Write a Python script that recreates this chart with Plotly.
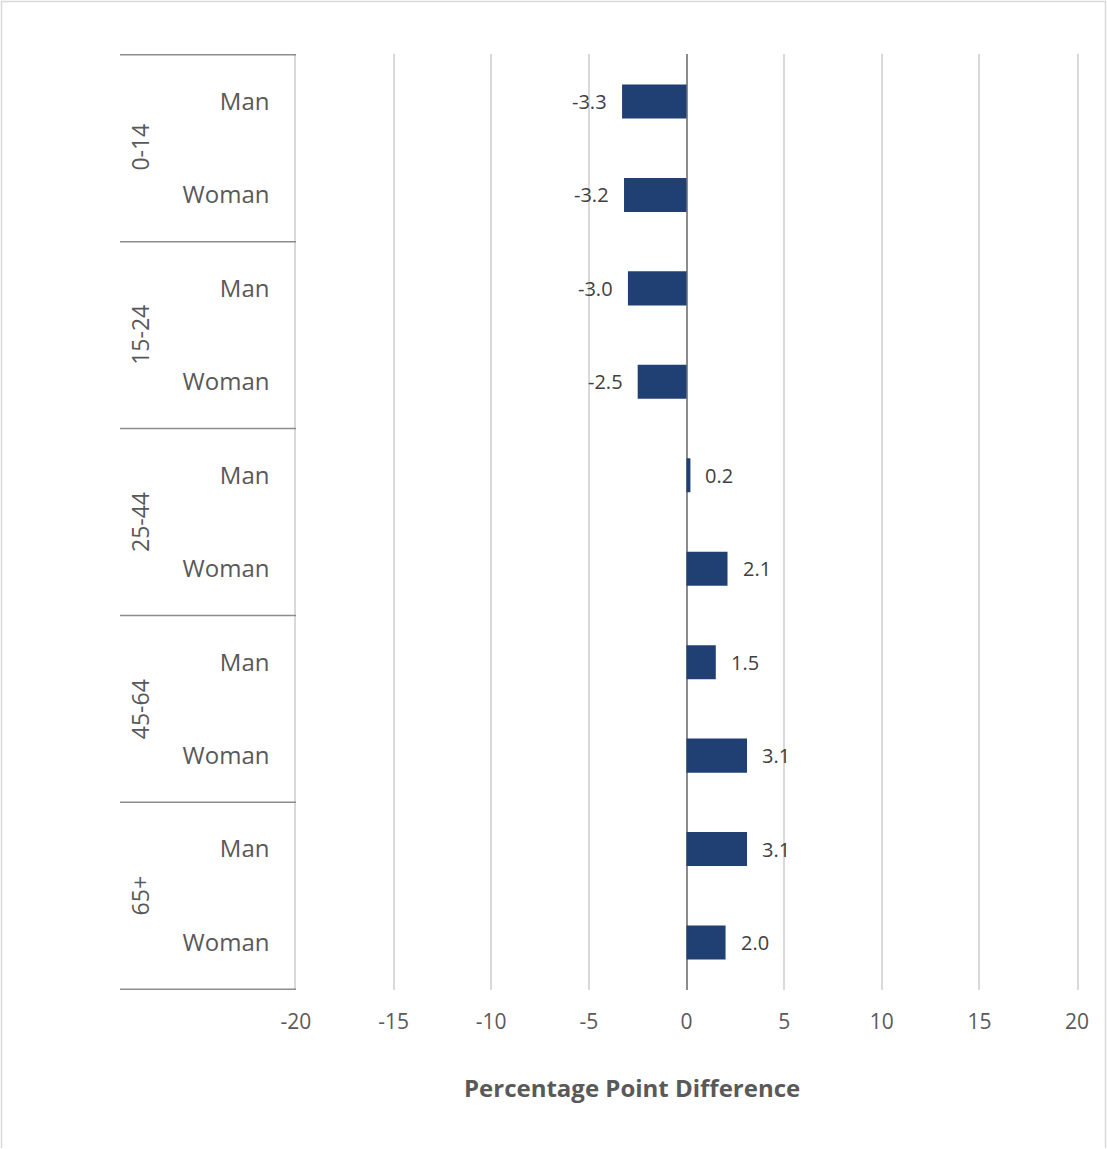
import plotly.graph_objects as go

# Change in population share by age group and sex (percentage points)
age_groups = ["0-14", "15-24", "25-44", "45-64", "65+"]
sexes = ["Man", "Woman"]
differences = [-3.3, -3.2, -3.0, -2.5, 0.2, 2.1, 1.5, 3.1, 3.1, 2.0]
x_ticks = [-20, -15, -10, -5, 0, 5, 10, 15, 20]

row_keys = [f"{g} {s}" for g in age_groups for s in sexes]
row_text = [s for g in age_groups for s in sexes]
labels = [f"{v:.1f}" for v in differences]

W, H = 1107, 1149
L, R, T, B = 296, 30, 54, 159
pw, ph = W - L - R, H - T - B

def px_x(px):
    return (px - L) / pw

def px_y(py):
    return (H - B - py) / ph

fig = go.Figure(go.Bar(
    x=differences, y=row_keys, orientation="h",
    marker=dict(color="#203f73", line=dict(width=0)),
    hoverinfo="x+y",
))

shapes = []
# group separators in the label column
for k in range(len(age_groups) + 1):
    yv = 2 * k - 0.5
    shapes.append(dict(type="line", xref="paper", yref="y",
                       x0=px_x(120), x1=0, y0=yv, y1=yv,
                       line=dict(color="#8c8c8c", width=1.5), layer="above"))
# outer frame of the chart
shapes.append(dict(type="path", xref="paper", yref="paper",
                   path=f"M {px_x(1.5)} {px_y(1148)} L {px_x(1.5)} {px_y(1.5)} "
                        f"L {px_x(1105.5)} {px_y(1.5)} L {px_x(1105.5)} {px_y(1148)}",
                   line=dict(color="#d9d9d9", width=1.5)))

annotations = []
# value labels just outside the bar ends
for key, v, lab in zip(row_keys, differences, labels):
    annotations.append(dict(text=lab, x=v, y=key, xref="x", yref="y",
                            xanchor="left" if v >= 0 else "right",
                            yanchor="middle",
                            xshift=13 if v >= 0 else -13,
                            showarrow=False,
                            font=dict(family="Open Sans", size=20, color="#404040")))
# age group labels, rotated
for k, g in enumerate(age_groups):
    yc = (T + (2 * k + 1) * ph / 10)
    annotations.append(dict(text=g, xref="paper", yref="paper",
                            x=px_x(140), y=px_y(yc), textangle=-90,
                            xanchor="center", yanchor="middle",
                            showarrow=False,
                            font=dict(family="Open Sans", size=23, color="#595959")))
annotations.append(dict(text="<b>Percentage Point Difference</b>",
                        xref="paper", yref="paper", x=px_x(632), y=px_y(1087),
                        xanchor="center", yanchor="middle",
                        showarrow=False,
                        font=dict(family="Open Sans", size=24, color="#595959")))

fig.update_layout(
    width=W, height=H,
    margin=dict(l=L, r=R, t=T, b=B),
    paper_bgcolor="white", plot_bgcolor="white",
    showlegend=False,
    bargap=0.636,
    shapes=shapes, annotations=annotations,
    xaxis=dict(range=[-20, 20], tickvals=x_ticks, ticktext=[str(v) for v in x_ticks],
               showgrid=True, gridcolor="#d9d9d9", gridwidth=1.5,
               zeroline=True, zerolinecolor="#8c8c8c", zerolinewidth=1.5,
               showline=False, ticks="", ticklabelstandoff=17,
               tickfont=dict(family="Open Sans", size=21, color="#595959")),
    yaxis=dict(categoryorder="array", categoryarray=row_keys,
               tickvals=row_keys, ticktext=row_text,
               autorange="reversed", showgrid=False, zeroline=False,
               showline=True, linecolor="#d9d9d9", linewidth=1.5, mirror=True,
               ticks="", ticklabelstandoff=20,
               tickfont=dict(family="Open Sans", size=24, color="#595959")),
)

fig.write_html("out.html")
